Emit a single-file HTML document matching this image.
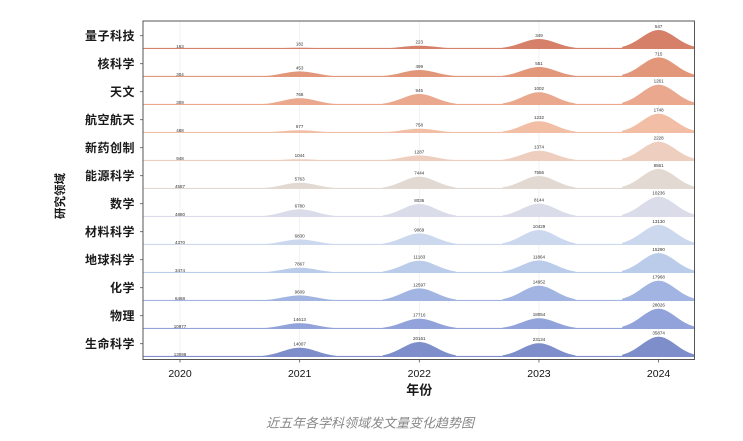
<!DOCTYPE html>
<html>
<head>
<meta charset="utf-8">
<style>
  html, body { margin: 0; padding: 0; background: #ffffff; }
  body { width: 743px; height: 441px; overflow: hidden; }
  svg { display: block; }
  .v { font-family: "Liberation Sans", sans-serif; font-size: 4.5px; fill: #333; text-anchor: middle; }
  .rl { font-family: "Liberation Sans", "Noto Sans CJK SC", sans-serif; font-size: 12px; font-weight: bold; fill: #1a1a1a; text-anchor: end; letter-spacing: 0.5px; }
  .yr { font-family: "Liberation Sans", sans-serif; font-size: 10.5px; fill: #111; text-anchor: middle; }
</style>
</head>
<body>
<svg width="743" height="441" viewBox="0 0 743 441" xmlns="http://www.w3.org/2000/svg">
  <defs>
    <path id="g" d="M-36.5 0 L-36.5 -0.1 L-33 -0.152 L-30 -0.211 L-27 -0.283 L-24 -0.369 L-21 -0.466 L-18 -0.571 L-15 -0.678 L-12 -0.78 L-9 -0.869 L-6 -0.94 L-3 -0.985 L0 -1 L3 -0.985 L6 -0.94 L9 -0.869 L12 -0.78 L15 -0.678 L18 -0.571 L21 -0.466 L24 -0.369 L27 -0.283 L30 -0.211 L33 -0.152 L36.5 -0.1 L36.5 0 Z"/>
    <clipPath id="frame"><rect x="143" y="21" width="551.5" height="338.5"/></clipPath>
  </defs>

  <!-- grid -->
  <g stroke="#ececec" stroke-width="0.7">
    <line x1="180" y1="21" x2="180" y2="359.5"/>
    <line x1="299.65" y1="21" x2="299.65" y2="359.5"/>
    <line x1="419.3" y1="21" x2="419.3" y2="359.5"/>
    <line x1="538.95" y1="21" x2="538.95" y2="359.5"/>
    <line x1="658.6" y1="21" x2="658.6" y2="359.5"/>
  </g>

  <g clip-path="url(#frame)">
    <g transform="translate(0,48.7)" fill="#d6806a">
      <rect x="143" y="-0.8" width="552" height="1.1"/>
      <use href="#g" transform="translate(299.65,0) scale(1,1)"/>
      <use href="#g" transform="translate(419.3,0) scale(1,3)"/>
      <use href="#g" transform="translate(538.95,0) scale(1,9.7)"/>
      <use href="#g" transform="translate(658.6,0) scale(1,18.7)"/>
    </g>
    <g transform="translate(0,76.7)" fill="#e2967a">
      <rect x="143" y="-0.8" width="552" height="1.1"/>
      <use href="#g" transform="translate(299.65,0) scale(1,5.3)"/>
      <use href="#g" transform="translate(419.3,0) scale(1,6.7)"/>
      <use href="#g" transform="translate(538.95,0) scale(1,9.7)"/>
      <use href="#g" transform="translate(658.6,0) scale(1,19.3)"/>
    </g>
    <g transform="translate(0,104.7)" fill="#eaa88e">
      <rect x="143" y="-0.8" width="552" height="1.1"/>
      <use href="#g" transform="translate(299.65,0) scale(1,6.5)"/>
      <use href="#g" transform="translate(419.3,0) scale(1,10.7)"/>
      <use href="#g" transform="translate(538.95,0) scale(1,12.5)"/>
      <use href="#g" transform="translate(658.6,0) scale(1,20)"/>
    </g>
    <g transform="translate(0,132.7)" fill="#f2bea5">
      <rect x="143" y="-0.8" width="552" height="1.1"/>
      <use href="#g" transform="translate(299.65,0) scale(1,2.5)"/>
      <use href="#g" transform="translate(419.3,0) scale(1,4)"/>
      <use href="#g" transform="translate(538.95,0) scale(1,11.5)"/>
      <use href="#g" transform="translate(658.6,0) scale(1,19)"/>
    </g>
    <g transform="translate(0,160.7)" fill="#eecebe">
      <rect x="143" y="-0.8" width="552" height="1.1"/>
      <use href="#g" transform="translate(299.65,0) scale(1,1.5)"/>
      <use href="#g" transform="translate(419.3,0) scale(1,5.3)"/>
      <use href="#g" transform="translate(538.95,0) scale(1,10)"/>
      <use href="#g" transform="translate(658.6,0) scale(1,19)"/>
    </g>
    <g transform="translate(0,188.7)" fill="#e2dad2">
      <rect x="143" y="-0.8" width="552" height="1.1"/>
      <use href="#g" transform="translate(299.65,0) scale(1,6)"/>
      <use href="#g" transform="translate(419.3,0) scale(1,12)"/>
      <use href="#g" transform="translate(538.95,0) scale(1,12.7)"/>
      <use href="#g" transform="translate(658.6,0) scale(1,19.8)"/>
    </g>
    <g transform="translate(0,216.7)" fill="#dadde9">
      <rect x="143" y="-0.8" width="552" height="1.1"/>
      <use href="#g" transform="translate(299.65,0) scale(1,7.4)"/>
      <use href="#g" transform="translate(419.3,0) scale(1,12.7)"/>
      <use href="#g" transform="translate(538.95,0) scale(1,13)"/>
      <use href="#g" transform="translate(658.6,0) scale(1,20)"/>
    </g>
    <g transform="translate(0,244.7)" fill="#ccd8ee">
      <rect x="143" y="-0.8" width="552" height="1.1"/>
      <use href="#g" transform="translate(299.65,0) scale(1,5.3)"/>
      <use href="#g" transform="translate(419.3,0) scale(1,11.3)"/>
      <use href="#g" transform="translate(538.95,0) scale(1,14.7)"/>
      <use href="#g" transform="translate(658.6,0) scale(1,19.7)"/>
    </g>
    <g transform="translate(0,272.7)" fill="#baccea">
      <rect x="143" y="-0.8" width="552" height="1.1"/>
      <use href="#g" transform="translate(299.65,0) scale(1,5)"/>
      <use href="#g" transform="translate(419.3,0) scale(1,12)"/>
      <use href="#g" transform="translate(538.95,0) scale(1,12.3)"/>
      <use href="#g" transform="translate(658.6,0) scale(1,19.6)"/>
    </g>
    <g transform="translate(0,300.7)" fill="#a2b4e2">
      <rect x="143" y="-0.8" width="552" height="1.1"/>
      <use href="#g" transform="translate(299.65,0) scale(1,5.3)"/>
      <use href="#g" transform="translate(419.3,0) scale(1,12.3)"/>
      <use href="#g" transform="translate(538.95,0) scale(1,15)"/>
      <use href="#g" transform="translate(658.6,0) scale(1,20)"/>
    </g>
    <g transform="translate(0,328.7)" fill="#92a2da">
      <rect x="143" y="-0.8" width="552" height="1.1"/>
      <use href="#g" transform="translate(299.65,0) scale(1,5.5)"/>
      <use href="#g" transform="translate(419.3,0) scale(1,10)"/>
      <use href="#g" transform="translate(538.95,0) scale(1,10.5)"/>
      <use href="#g" transform="translate(658.6,0) scale(1,20)"/>
    </g>
    <g transform="translate(0,356.7)" fill="#7e8eca">
      <rect x="143" y="-0.8" width="552" height="1.1"/>
      <use href="#g" transform="translate(299.65,0) scale(1,9)"/>
      <use href="#g" transform="translate(419.3,0) scale(1,14.7)"/>
      <use href="#g" transform="translate(538.95,0) scale(1,13.5)"/>
      <use href="#g" transform="translate(658.6,0) scale(1,20)"/>
    </g>
  </g>

  <!-- value labels -->
  <g class="v">
    <g transform="translate(0,48.7)">
      <text class="v" x="180" y="-0.8">163</text><text class="v" x="299.65" y="-3">182</text><text class="v" x="419.3" y="-5">223</text><text class="v" x="538.95" y="-11.7">349</text><text class="v" x="658.6" y="-20.7">547</text>
    </g>
    <g transform="translate(0,76.7)">
      <text class="v" x="180" y="-0.8">304</text><text class="v" x="299.65" y="-7.3">453</text><text class="v" x="419.3" y="-8.7">499</text><text class="v" x="538.95" y="-11.7">551</text><text class="v" x="658.6" y="-21.3">715</text>
    </g>
    <g transform="translate(0,104.7)">
      <text class="v" x="180" y="-0.8">309</text><text class="v" x="299.65" y="-8.5">768</text><text class="v" x="419.3" y="-12.7">945</text><text class="v" x="538.95" y="-14.5">1002</text><text class="v" x="658.6" y="-22">1261</text>
    </g>
    <g transform="translate(0,132.7)">
      <text class="v" x="180" y="-0.8">488</text><text class="v" x="299.65" y="-4.5">677</text><text class="v" x="419.3" y="-6">758</text><text class="v" x="538.95" y="-13.5">1232</text><text class="v" x="658.6" y="-21">1748</text>
    </g>
    <g transform="translate(0,160.7)">
      <text class="v" x="180" y="-0.8">948</text><text class="v" x="299.65" y="-3.5">1044</text><text class="v" x="419.3" y="-7.3">1287</text><text class="v" x="538.95" y="-12">1374</text><text class="v" x="658.6" y="-21">2228</text>
    </g>
    <g transform="translate(0,188.7)">
      <text class="v" x="180" y="-0.8">4587</text><text class="v" x="299.65" y="-8">5763</text><text class="v" x="419.3" y="-14">7444</text><text class="v" x="538.95" y="-14.7">7556</text><text class="v" x="658.6" y="-21.8">8561</text>
    </g>
    <g transform="translate(0,216.7)">
      <text class="v" x="180" y="-0.8">4880</text><text class="v" x="299.65" y="-9.4">6780</text><text class="v" x="419.3" y="-14.7">8036</text><text class="v" x="538.95" y="-15">8144</text><text class="v" x="658.6" y="-22">10236</text>
    </g>
    <g transform="translate(0,244.7)">
      <text class="v" x="180" y="-0.8">4370</text><text class="v" x="299.65" y="-7.3">6830</text><text class="v" x="419.3" y="-13.3">9069</text><text class="v" x="538.95" y="-16.7">10429</text><text class="v" x="658.6" y="-21.7">13130</text>
    </g>
    <g transform="translate(0,272.7)">
      <text class="v" x="180" y="-0.8">3474</text><text class="v" x="299.65" y="-7">7867</text><text class="v" x="419.3" y="-14">11183</text><text class="v" x="538.95" y="-14.3">11864</text><text class="v" x="658.6" y="-21.6">15290</text>
    </g>
    <g transform="translate(0,300.7)">
      <text class="v" x="180" y="-0.8">6468</text><text class="v" x="299.65" y="-7.3">9609</text><text class="v" x="419.3" y="-14.3">12597</text><text class="v" x="538.95" y="-17">14952</text><text class="v" x="658.6" y="-22">17968</text>
    </g>
    <g transform="translate(0,328.7)">
      <text class="v" x="180" y="-0.8">10977</text><text class="v" x="299.65" y="-7.5">14613</text><text class="v" x="419.3" y="-12">17716</text><text class="v" x="538.95" y="-12.5">18054</text><text class="v" x="658.6" y="-22">28026</text>
    </g>
    <g transform="translate(0,356.7)">
      <text class="v" x="180" y="-0.8">13098</text><text class="v" x="299.65" y="-11">14007</text><text class="v" x="419.3" y="-16.7">20161</text><text class="v" x="538.95" y="-15.5">23134</text><text class="v" x="658.6" y="-22">35874</text>
    </g>
  </g>

  <!-- frame -->
  <rect x="143" y="21" width="551.5" height="338.5" fill="none" stroke="#555" stroke-width="1"/>

  <!-- y ticks -->
  <g stroke="#555" stroke-width="0.8">
    <line x1="140" y1="35.7" x2="143" y2="35.7"/>
    <line x1="140" y1="63.7" x2="143" y2="63.7"/>
    <line x1="140" y1="91.7" x2="143" y2="91.7"/>
    <line x1="140" y1="119.7" x2="143" y2="119.7"/>
    <line x1="140" y1="147.7" x2="143" y2="147.7"/>
    <line x1="140" y1="175.7" x2="143" y2="175.7"/>
    <line x1="140" y1="203.7" x2="143" y2="203.7"/>
    <line x1="140" y1="231.7" x2="143" y2="231.7"/>
    <line x1="140" y1="259.7" x2="143" y2="259.7"/>
    <line x1="140" y1="287.7" x2="143" y2="287.7"/>
    <line x1="140" y1="315.7" x2="143" y2="315.7"/>
    <line x1="140" y1="343.7" x2="143" y2="343.7"/>
  </g>
  <!-- x ticks -->
  <g stroke="#555" stroke-width="0.8">
    <line x1="180" y1="359.5" x2="180" y2="362.5"/>
    <line x1="299.65" y1="359.5" x2="299.65" y2="362.5"/>
    <line x1="419.3" y1="359.5" x2="419.3" y2="362.5"/>
    <line x1="538.95" y1="359.5" x2="538.95" y2="362.5"/>
    <line x1="658.6" y1="359.5" x2="658.6" y2="362.5"/>
  </g>

  <!-- row labels -->
  <text class="rl" x="135" y="40">量子科技</text>
  <text class="rl" x="135" y="68">核科学</text>
  <text class="rl" x="135" y="96">天文</text>
  <text class="rl" x="135" y="124">航空航天</text>
  <text class="rl" x="135" y="152">新药创制</text>
  <text class="rl" x="135" y="180">能源科学</text>
  <text class="rl" x="135" y="208">数学</text>
  <text class="rl" x="135" y="236">材料科学</text>
  <text class="rl" x="135" y="264">地球科学</text>
  <text class="rl" x="135" y="292">化学</text>
  <text class="rl" x="135" y="320">物理</text>
  <text class="rl" x="135" y="348">生命科学</text>

  <!-- y title -->
  <text transform="translate(64,196) rotate(-90)" text-anchor="middle" font-family="Liberation Sans, Noto Sans CJK SC, sans-serif" font-size="11.5" font-weight="bold" fill="#1a1a1a">研究领域</text>

  <!-- year labels -->
  <text class="yr" x="180" y="377">2020</text>
  <text class="yr" x="299.65" y="377">2021</text>
  <text class="yr" x="419.3" y="377">2022</text>
  <text class="yr" x="538.95" y="377">2023</text>
  <text class="yr" x="658.6" y="377">2024</text>

  <text x="419.3" y="394.7" text-anchor="middle" font-family="Liberation Sans, Noto Sans CJK SC, sans-serif" font-size="13" font-weight="bold" fill="#1a1a1a">年份</text>

  <!-- caption -->
  <text x="370" y="427.3" text-anchor="middle" font-family="Liberation Sans, Noto Sans CJK SC, sans-serif" font-size="13" font-style="italic" fill="#888">近五年各学科领域发文量变化趋势图</text>
</svg>
</body>
</html>
